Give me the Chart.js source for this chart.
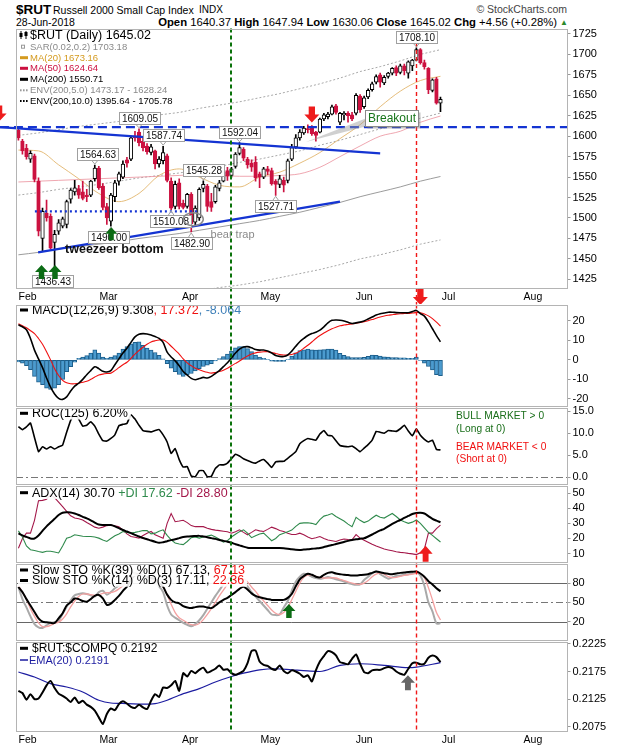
<!DOCTYPE html>
<html>
<head>
<meta charset="utf-8">
<title>$RUT Russell 2000 Small Cap Index</title>
<script src="https://cdn.jsdelivr.net/npm/chart.js@4.4.1/dist/chart.umd.min.js"></script>
<style>
  body { margin: 0; background: #fff; }
  #wrap { position: relative; width: 620px; height: 750px; overflow: hidden; background: #fff;
          font-family: "Liberation Sans", Arial, sans-serif; color: #000; }
  #wrap canvas { position: absolute; left: 0; }
  .txt { position: absolute; white-space: nowrap; line-height: 1; }
</style>
</head>
<body>
<div id="wrap">
  <div class="txt" style="left:16px;top:3px;font-size:13.5px;font-weight:bold">$RUT</div>
  <div class="txt" style="left:53px;top:4.5px;font-size:10.5px">Russell 2000 Small Cap Index</div>
  <div class="txt" style="left:199px;top:5px;font-size:10px">INDX</div>
  <div class="txt" style="right:53px;top:4px;font-size:10.5px;color:#444">&copy; StockCharts.com</div>
  <div class="txt" style="left:16px;top:17px;font-size:10.5px">28-Jun-2018</div>
  <div class="txt" style="right:63px;top:17px;font-size:11.3px"><b>Open</b> 1640.37 <b>High</b> 1647.94 <b>Low</b> 1630.06 <b>Close</b> 1645.02 <b>Chg</b> +4.56 (+0.28%)</div>
  <div class="txt" style="left:560px;top:19px;font-size:8px;color:#2a8a2a">&#9650;</div>
</div>
<script>
const FONT = '"Liberation Sans", Arial, sans-serif';
Chart.defaults.font.family = FONT;

// x = trading day index: 0 = 29-Jan-2018 ... 105 = 28-Jun-2018
const X_MIN = -0.6, X_MAX = 136.6;
const monthTicks = [2.3, 22.4, 42.7, 62.7, 86, 107, 128];
const monthNames = ['Feb', 'Mar', 'Apr', 'May', 'Jun', 'Jul', 'Aug'];
const GREEN_DAY = 53, RED_DAY = 99;

const opens = [1607,1594,1585,1572,1576,1545,1475,1506,1502,1470,
  1484,1490,1492,1523,1532,1536,1532,1528,1528,1548,
  1561,1539,1514,1496,1526,1545,1550,1571,1572,1600,
  1605,1594,1588,1580,1582,1566,1570,1576,1545,1514,
  1543,1518,1514,1529,1495,1500,1536,1539,1520,1520,
  1536,1545,1558,1552,1563,1579,1584,1572,1567,1568,
  1554,1550,1560,1558,1545,1541,1546,1546,1572,1587,
  1598,1604,1609,1611,1605,1605,1621,1624,1627,1637,
  1617,1626,1628,1626,1628,1649,1636,1648,1657,1666,
  1675,1665,1673,1677,1684,1678,1686,1677,1686,1693,
  1706,1690,1683,1656,1670,1640.37];
const highs = [1610,1596,1590,1582,1578,1549,1512,1522,1505,1485,
  1498,1501,1522,1536,1546,1540,1545,1535,1546,1564.63,
  1563,1542,1518,1530,1546,1556,1570,1574,1600,1606,
  1609.05,1598,1591,1590,1583,1575,1587.74,1578,1549,1545,
  1548,1522,1530,1531,1515,1537,1545.28,1541,1530,1540,
  1546,1558,1562,1562,1580,1592.04,1586,1574,1571,1575,
  1556,1562,1563,1561,1547,1552,1550,1572,1590,1602,
  1608,1612,1614,1613,1606,1622,1628,1629,1638,1639,
  1629,1630,1630,1629,1652,1651,1649,1658,1666,1675,
  1677,1674,1678,1684,1686,1688,1688,1692,1694,1708.10,
  1707,1693,1684,1670,1672,1647.94];
const lows = [1595,1578,1572,1568,1544,1478,1460,1496,1462,1436.43,
  1480,1488,1488,1518,1528,1524,1522,1520,1526,1545,
  1535,1510,1492,1490,1520,1540,1548,1562,1570,1594,
  1588,1582,1578,1577,1560,1562,1566,1544,1510.08,1511,
  1511,1511,1512,1482.90,1490,1497,1532,1508,1508,1518,
  1533,1544,1546,1550,1561,1577,1570,1561,1557,1545,
  1537,1548,1553,1540,1527.71,1537,1532,1543,1570,1585,
  1595,1602,1604,1601,1594,1604,1619,1621,1626,1627,
  1614,1620,1617,1619,1626,1629,1634,1646,1655,1664,
  1660,1663,1671,1675,1674,1676,1675,1671,1680,1692,
  1688,1682,1652,1654,1639,1630.06];
const closes = [1598,1582,1575,1579,1547,1484,1508,1500,1463,1480,
  1494,1499,1520,1534,1537,1528,1524,1526,1545,1561,
  1537,1513,1500,1528,1543,1554,1566,1567,1598,1598,
  1592,1586,1581,1587,1566,1572,1580,1546,1512,1541,
  1514,1513,1529,1493,1512,1535,1541,1514,1513,1538,
  1543,1556,1551,1560,1578,1586,1573,1565,1562,1549,
  1550,1560,1557,1542,1541,1548,1540,1570,1586,1598,
  1605,1610,1608,1603,1601,1621,1626,1627,1636,1629,
  1628,1628,1625,1621,1650,1632,1647,1656,1664,1673,
  1666,1672,1677,1683,1677,1686,1680,1691,1693,1706,
  1690,1685,1657,1669,1640.46,1645.02];

// overlays read at every 5th day
const maDays = [0,5,10,15,20,25,30,35,40,45,50,55,60,65,70,75,80,85,90,95,100,105];
const ma20 = [1583,1582,1565,1548,1530,1520,1530,1552,1560,1550,1540,1538,1550,1556,1567,1580,1597,1614,1636,1655,1668,1673.16];
const ma50 = [1544,1545,1546,1547,1548,1549,1550,1551,1552,1553,1552,1551,1551,1552,1554,1562,1575,1588,1600,1606,1617,1624.64];
const ma200 = [1455,1458,1462,1465,1468,1471,1475,1478,1481,1485,1489,1493,1497,1502,1507,1513,1519,1526,1532,1538,1545,1550.71];
const env5Up = [1528,1531,1535,1538,1541,1545,1549,1552,1555,1559,1563,1568,1572,1577,1582,1589,1595,1602,1609,1615,1622,1628.24];
const env5Lo = [1382,1385,1389,1392,1395,1397,1401,1404,1407,1411,1415,1418,1422,1427,1432,1437,1443,1450,1455,1461,1468,1473.17];
const env10Up = [1601,1604,1608,1612,1615,1618,1623,1626,1629,1634,1638,1642,1647,1652,1658,1664,1671,1679,1685,1692,1700,1705.78];

// hand-drawn trend lines [day, price]
const resistance = [[-4.6, 1611], [136.6, 1611]];
const trendDown = [[-4.6, 1611], [90, 1579]];
const trendUp = [[4.9, 1458], [80, 1520]];
const supportDots = [[4.1, 1508], [45.2, 1508]];

const tagDays = [30, 36, 19, 55, 46, 38, 43, 64, 9, 23, 99];
const tagVals = [1609.05, 1587.74, 1564.63, 1592.04, 1545.28, 1510.08, 1482.90, 1527.71, 1436.43, 1490.00, 1708.10];
const tagAbove = [1, 1, 1, 1, 1, 0, 0, 0, 0, 0, 1];
const tagShift = [0, 0, 3, 0, 0, -1, 0, 0, -2, -2, 0];

const macd = [18.0,17.0,15.5,11,5,0.5,-4,-9.3,-14,-17.5,
  -19.8,-20.3,-19,-16,-13.5,-12,-10,-7.6,-5.5,-3.5,
  -4.5,-5.9,-6.2,-5.5,-2.5,0.5,3.5,6,9,11.8,
  13.2,13.5,13.3,12.8,12,11,9,4,1.5,-0.5,
  -3,-6,-7.8,-9.5,-10.2,-9.6,-9.0,-9.3,-8.5,-7,
  -5.5,-3.5,-1.5,1,3.5,5.5,6.6,6.8,6.2,5.3,
  5.0,5.1,4.5,3.5,2.3,1.8,1.7,2.5,4.5,7,
  9.3,11,12.5,13.5,14.2,15.3,17,19,20.3,20.5,
  20.4,20,19.3,18.7,19,19.4,20,21,22,23,
  23.7,24.1,24.5,24.5,24.3,24.2,24.2,24.2,24.8,25.4,
  23.8,22.5,19.5,16,12.5,9.308];
const signal = [18.5,17.5,16.5,15,13.5,11,8,4.2,0,-4.5,
  -8,-10.5,-11.8,-12.3,-12.3,-12,-11.5,-11,-10,-8.8,
  -7.8,-7.3,-7,-6.8,-5.5,-4,-2.5,-1.2,0.8,3,
  4.8,6.5,8,9.2,9.8,10.2,10.2,9,7,5,
  3,0.5,-1.5,-3,-4.3,-5.1,-5.8,-6.4,-6.8,-6.5,
  -6,-5.3,-4.3,-3,-1.8,-0.6,0.8,2,3,3.6,
  4,4.2,4.2,3.8,3.3,2.8,2.5,2.5,2.8,3.4,
  4.5,6,7.5,9.2,11,12.5,13.8,15,16,16.8,
  17.5,17.9,18.2,18.5,18.8,19.2,19.6,20.1,20.7,21.4,
  22,22.5,22.9,23.2,23.5,23.7,23.8,23.9,24.1,24.3,
  24.2,23.6,22.6,21.2,19.4,17.372];
const histo = [-1,-1.7,-3,-5,-8.5,-11.5,-12.7,-14.5,-15.2,-14.5,
  -12.7,-10,-6,-3.5,-1.2,0.8,1.5,2.2,3.5,5.1,
  3.5,1.5,0.8,1.5,2.2,3.5,5.5,6.8,8.3,9.0,
  9.3,7.5,6,5,3.8,2.3,0.5,-2,-4.2,-6,
  -7.5,-8.5,-7.6,-7,-5.7,-4.5,-3.4,-2.7,-2,-0.5,
  0.7,1.7,3,4.5,6.2,6.8,6.8,5.8,4.2,2.5,
  1.5,0.8,0.2,-0.6,-0.8,-0.8,-0.8,0.3,2,3.6,
  4.8,5.1,5.6,5.1,5,5.1,5.3,5.6,5.6,5.0,
  3.4,2.4,1.7,1.2,1.2,1.2,1.3,1.8,2.5,2.3,
  2,1.6,1.4,1.2,1.2,1.1,1.0,0.8,0.8,1.4,
  -0.3,-1.7,-3.4,-5.1,-7.6,-8.064];

const roc = [11.5,10.8,11.4,12.3,9,5.8,6.9,6.4,6.9,6.4,
  6.9,7.3,10.2,12.9,14.5,13.2,11.6,11.8,12.6,11.6,
  9.8,8.3,8.2,8.8,9.6,11.7,12,12.2,14.2,13.2,
  11.8,10.6,10.4,10.3,10.6,10.8,9.6,8,5.4,6.5,
  4,2.3,2.4,0.3,0.1,1.5,1.5,0.1,0.2,2.0,
  2.8,2.8,3.2,4.2,5.2,4.8,4.2,3.8,3.4,3.2,
  3.7,4.0,3.2,2.2,3.5,3.6,3.6,4.3,5.0,5.8,
  7.6,8.3,8.8,8.6,8.4,9.8,10.6,9.5,9.4,8.3,
  7.2,7.0,6.9,7.1,6.5,5.8,6.6,7.4,8.4,10.4,
  10.2,10.0,10.6,10.5,10.4,11.0,11.8,10.5,9.4,11.0,
  9.5,8.6,8.0,8.4,6.3,6.2];

const adx = [23.3,22,21,20,20,22,25,28,30.5,33,
  35.5,37,37.3,37.2,36.5,35.5,34.3,33.3,32,30.5,
  29.2,28.9,28.9,28.9,28,26.8,25.6,24.6,23.5,22.4,
  21.3,20.3,19.5,18.6,17.8,17.1,17.5,18.2,18.9,19.5,
  20.2,20.9,21.3,21.5,21.6,21.7,21.3,20.8,20.2,19.7,
  19,18.4,17.8,17.1,16.2,15.4,14.6,13.9,13.7,13.6,
  13.6,13.7,13.7,13.7,13.6,13.6,13.5,13.2,12.8,12.5,
  12.4,12.6,12.8,13.1,13.4,13.7,14.3,15,15.6,16.3,
  17,17.7,18.4,19,19.4,19.8,20.1,21.3,22.6,24,
  25.3,26.4,28,29.6,31,32.2,33.6,34.9,36.2,36.8,
  37,36.5,34.8,33,31.8,30.7];
const plusDI = [25,21,15,12.5,12,11.3,10.8,11.5,11.5,11,
  10.4,15,20.2,21,22.4,22,21.5,21.3,21.3,21,
  20.2,19,18,20,21.8,23,24.6,24,23.6,24,
  24.6,25.3,25.2,23,23.5,24.8,25.7,22,19,17,
  16.3,15.9,18,20.5,21,20.2,21,21.6,22.2,21,
  19.5,17.5,18.5,21,22.8,24.5,25.7,23.5,20.5,21.8,
  23,23.5,21,18.5,20,22.5,23.5,24.5,25.5,28,
  30,30.3,30.4,30,29.2,32.5,34.8,35.5,36.5,34.5,
  33,31.5,29.5,27.8,34,32,30.5,31.5,33.5,35.4,
  34,33.5,35,36.5,34.5,32.2,31,30,30.8,32.2,
  30,27,24,22,19.8,17.62];
const minusDI = [13.5,20,23.5,23.5,32,45,45.2,46,49,47,
  44,41,38,35,33.5,33,32.2,30.5,29,27.5,
  26.8,27.5,28.5,28.9,28.3,27.8,25.5,23,21.3,20.8,
  20.2,22,23.5,24.6,22.4,21.3,20.2,30,36.5,31.1,
  31.5,32,30.5,28.5,27.8,27.8,27.8,26.8,26,25.5,
  25.2,24.8,24.4,23.5,24.5,25.7,24,22.4,24,25.7,
  25,24.6,26,27.5,26.5,25.2,24.6,23.5,22.6,22.6,
  23.5,22.4,21,19.8,20.5,21.3,20,19,18.5,18,
  19,19.6,19.3,19.1,22.5,20.2,18.8,17.5,16.2,15,
  14,13,12.4,11.8,11.2,10.8,10.5,10.1,9.8,9.3,
  10.5,13,23.5,23.5,26.5,28.8];

const stoK39 = [74,66,55,45,35,25,20,18.7,18,17.7,
  25,33,45,50,56,55,52,51,55,60,
  61.5,56.3,46,48,53.8,60,68,74.4,85,92,
  94,92,90,88,86,80,74.4,62,53.8,50,
  48.5,44,42,41,42.5,43.3,43.3,42,41,45,
  50,54,57,61.5,66,71,74.4,70,64,60,
  58,56.3,55,53.8,53.5,53.8,53.8,57,63,75,
  86,91,94.5,93,90,89,93,96,97,95,
  94,93,92.5,92,92,92.5,93,94,96,98,
  97,95.5,94.5,94,95,96,96.5,97.5,97.8,98,
  95,90,83,78,72,67.13];
const stoK14 = [74,55,42,28,16,11,10,14,18,19,
  21,32,43,53,61,63,64,63,61,59,
  66,68,62,66,72,76,80,88,95,96,
  93,90,86,84,80,75,66,45,31,26,
  22,18,15,12.6,16,22,30,40,50,60,
  69,78,86,90,92,88,82,75,66,59,
  52,45,38,31,30,31,42,52,68,82,
  90,94.5,93,90,88,87,88,89.5,88,86,
  84.5,82.5,80,78.5,77.5,78,85,90,95,98,
  94,90,87,89,91,92,93,94,95.5,97.5,
  92,76,50,36,17,17.11];
const stoD3 = [76,66,55,40,28,18,12,12,14,17,
  19,24,32,43,52,59,63,63,62,61,
  62,64,65,65,67,71,76,81,88,93,
  95,93,90,87,83,80,74,62,47,34,
  26,22,18,15,14.5,17,23,31,40,50,
  60,69,78,85,89,90,87,82,74,67,
  59,52,45,38,33,31,34,42,54,67,
  80,89,92.5,92.5,90.5,88.5,88,88,88.5,88,
  86,84,82,80,78.5,78,80,84,90,94,
  95.5,94,90,88.5,89,90.5,92,93,94,95.5,
  95,88.5,73,54,34,22.36];

const ratio = [.2140,.2136,.2124,.2134,.2125,.2126,.2137,.2150,.2158,.2145,
  .2135,.2131,.2126,.2120,.2128,.2118,.2122,.2115,.2111,.2104,
  .2092,.2080,.2098,.2108,.2105,.2116,.2121,.2117,.2111,.2109,
  .2115,.2110,.2107,.2122,.2134,.2129,.2146,.2145,.2150,.2158,
  .2140,.2172,.2166,.2176,.2172,.2178,.2182,.2173,.2176,.2180,
  .2186,.2178,.2179,.2172,.2169,.2172,.2176,.2190,.2212,.2213,
  .2193,.2187,.2185,.2180,.2178,.2186,.2176,.2172,.2177,.2175,
  .2171,.2165,.2168,.2157,.2177,.2193,.2203,.2212,.2210,.2204,
  .2192,.2190,.2188,.2198,.2206,.2189,.2174,.2172,.2177,.2178,
  .2178,.2181,.2183,.2181,.2175,.2171,.2169,.2180,.2190,.2191,
  .2188,.2189,.2200,.2204,.2201,.2192];
const emaDays = [0,4,8,12,16,20,23,27,31,34,37,40,45,49,53,56,60,64,68,72,75,80,85,91,97,99,105];
const ema20 = [.2174,.2165,.2153,.2147,.2138,.2123,.2118,.2117,.2116,.2117,.2123,.2132,.2144,.2156,.2166,.2172,.2178,.2180,.2178,.2176,.2175,.2186,.2189,.2186,.2182,.2183,.2191];

const priceTicks = [1425,1450,1475,1500,1525,1550,1575,1600,1625,1650,1675,1700,1725];
const macdTicks = [-20,-10,0,10,20];
const rocTicks = [0,2.5,5,7.5,10,12.5,15];
const adxTicks = [10,20,30,40,50];
const stoTicks = [20,50,80];
const ratioTicks = [0.2075,0.2100,0.2125,0.2150,0.2175,0.2200,0.2225];

const DOWN = '#cc1240';
const BLUE = '#1434d2';

const wrap = document.getElementById('wrap');
function makeCanvas(top, h) {
  const c = document.createElement('canvas');
  c.width = 620; c.height = h;
  c.style.top = top + 'px';
  wrap.appendChild(c);
  return c;
}

const daily = arr => arr.map((v, i) => ({ x: i, y: v }));
const sampled = (days, vals) => days.map((d, i) => ({ x: d, y: vals[i] }));
const pairs = arr => arr.map(p => ({ x: p[0], y: p[1] }));

function lineSet(data, color, width, extra) {
  return Object.assign({ type: 'line', data, borderColor: color, borderWidth: width,
    pointRadius: 0, fill: false, tension: 0 }, extra || {});
}

function opts(yMin, yMax, yTicks, fmt, xLabels, xHeight) {
  return {
    responsive: false, animation: false, events: [],
    layout: { padding: { left: 16, right: 0, top: 8, bottom: xLabels ? 0 : 8 } },
    plugins: { legend: { display: false }, tooltip: { enabled: false } },
    scales: {
      x: {
        type: 'linear', min: X_MIN, max: X_MAX, offset: false, display: xLabels,
        grid: { display: false, drawTicks: false }, border: { display: false },
        afterBuildTicks: s => { s.ticks = monthTicks.map(v => ({ value: v })); },
        afterFit: s => { s.height = xHeight; },
        ticks: { autoSkip: false, maxRotation: 0, padding: 2, color: '#000',
                 font: { size: 10.5 }, callback: (v, i) => monthNames[i] }
      },
      y: {
        type: 'linear', position: 'right', min: yMin, max: yMax,
        afterBuildTicks: s => { s.ticks = yTicks.map(v => ({ value: v })); },
        afterFit: s => { s.width = 52.5; },
        grid: { drawOnChartArea: false, drawTicks: true, tickLength: 3, color: '#999' },
        border: { display: false },
        ticks: { padding: 2, color: '#000', font: { size: 11 }, callback: v => fmt(v) }
      }
    }
  };
}

// ---------- drawing helpers ----------
// rows: [x, y, segs, size, icon]; backgrounds first so close rows never cover each other
function legend(ctx, rows) {
  ctx.save();
  ctx.textBaseline = 'middle';
  for (const [x, y, segs, size] of rows) {
    ctx.font = size + 'px ' + FONT;
    let w = 0;
    for (const s of segs) w += ctx.measureText(s[0]).width;
    ctx.fillStyle = 'rgba(255,255,255,0.9)';
    ctx.fillRect(18, y - size * 0.5, x - 18 + w + 3, size);
  }
  for (const [x0, y, segs, size, icon] of rows) {
    let x = x0;
    ctx.font = size + 'px ' + FONT;
    if (icon) icon(ctx, y);
    for (const s of segs) {
      ctx.fillStyle = s[1];
      ctx.fillText(s[0], x, y + 0.5);
      x += ctx.measureText(s[0]).width;
    }
  }
  ctx.restore();
}
const barIcon = (col, h) => (ctx, y) => { ctx.fillStyle = col; ctx.fillRect(20, y - h / 2, 8, h); };
const dotIcon = col => (ctx, y) => { ctx.fillStyle = col; for (let i = 0; i < 3; i++) ctx.fillRect(20 + i * 3, y - 1, 1.6, 2); };

function vLines(chart, extBottom, redTop) {
  const { ctx, chartArea: a } = chart;
  const xs = chart.scales.x;
  ctx.save();
  ctx.lineWidth = 2;
  ctx.strokeStyle = '#0a720a';
  ctx.setLineDash([4, 3]);
  let x = Math.round(xs.getPixelForValue(GREEN_DAY));
  ctx.beginPath(); ctx.moveTo(x, a.top); ctx.lineTo(x, a.bottom + extBottom); ctx.stroke();
  ctx.lineWidth = 1.4;
  ctx.strokeStyle = '#f01818';
  ctx.setLineDash([4, 3]);
  x = Math.round(xs.getPixelForValue(RED_DAY)) + 0.5;
  ctx.beginPath(); ctx.moveTo(x, redTop === undefined ? a.top : redTop); ctx.lineTo(x, a.bottom + extBottom); ctx.stroke();
  ctx.restore();
}

function border(chart) {
  const { ctx, chartArea: a } = chart;
  ctx.save();
  ctx.strokeStyle = '#b4b4b4'; ctx.lineWidth = 1; ctx.setLineDash([]);
  ctx.strokeRect(Math.round(a.left) + 0.5, Math.round(a.top) + 0.5, Math.round(a.width) - 1, Math.round(a.height) - 1);
  ctx.restore();
}

function hLine(chart, v, color, dash) {
  const { ctx, chartArea: a } = chart;
  const y = Math.round(chart.scales.y.getPixelForValue(v)) + 0.5;
  ctx.save();
  ctx.strokeStyle = color; ctx.lineWidth = 1; ctx.setLineDash(dash);
  ctx.beginPath(); ctx.moveTo(a.left, y); ctx.lineTo(a.right, y); ctx.stroke();
  ctx.restore();
}

function blockArrow(ctx, cx, tipY, w, h, up, fill) {
  const head = h * 0.5, sh = w * 0.42, d = up ? 1 : -1;
  ctx.save();
  ctx.fillStyle = fill;
  ctx.beginPath();
  ctx.moveTo(cx, tipY);
  ctx.lineTo(cx + w / 2, tipY + d * head);
  ctx.lineTo(cx + sh / 2, tipY + d * head);
  ctx.lineTo(cx + sh / 2, tipY + d * h);
  ctx.lineTo(cx - sh / 2, tipY + d * h);
  ctx.lineTo(cx - sh / 2, tipY + d * head);
  ctx.lineTo(cx - w / 2, tipY + d * head);
  ctx.closePath();
  ctx.fill();
  ctx.restore();
}

function priceTag(ctx, x, y, text, above, shift) {
  ctx.save();
  ctx.font = '10px ' + FONT;
  const w = Math.round(ctx.measureText(text).width) + 5, h = 12;
  const bx = Math.round(x + shift - w / 2) + 0.5;
  const by = above ? Math.round(y - 5 - h) + 0.5 : Math.round(y + 5) + 0.5;
  ctx.strokeStyle = '#a0a0a0'; ctx.lineWidth = 1;
  ctx.beginPath();
  const edge = above ? by + h : by;
  ctx.moveTo(x - 3, edge); ctx.lineTo(x, above ? y - 1 : y + 1); ctx.lineTo(x + 3, edge);
  ctx.stroke();
  ctx.fillStyle = '#fff';
  ctx.fillRect(bx, by, w, h);
  ctx.strokeRect(bx, by, w, h);
  ctx.fillStyle = '#111'; ctx.textAlign = 'center'; ctx.textBaseline = 'middle';
  ctx.fillText(text, bx + w / 2, by + h / 2 + 0.5);
  ctx.restore();
}

// ---------- price panel ----------
const up = closes.map((c, i) => c >= opens[i]);
const PRICE_TOP = 20;

const pricePlugin = {
  id: 'priceDeco',
  afterDatasetsDraw(chart) {
    const ctx = chart.ctx;
    const X = v => chart.scales.x.getPixelForValue(v);
    const Y = v => chart.scales.y.getPixelForValue(v);
    const r = abs => abs - PRICE_TOP;

    legend(ctx, [
      [30, r(35), [['$RUT (Daily) 1645.02', '#000']], 12.5, (c, y) => {
        c.fillStyle = '#000';
        c.fillRect(20.5, y - 4, 1, 8); c.fillRect(19.5, y - 2, 3, 4);
        c.fillRect(25.5, y - 4, 1, 8); c.fillRect(24.5, y - 3, 3, 4);
      }],
      [30, r(46.7), [['SAR(0.02,0.2) 1703.18', '#8a8a8a']], 9.5, (c, y) => {
        c.strokeStyle = '#999'; c.lineWidth = 1; c.strokeRect(21.5, y - 1.5, 3, 3);
      }],
      [30, r(57.7), [['MA(20) 1673.16', '#d49a1e']], 9.5, barIcon('#d49a1e', 3)],
      [30, r(68.3), [['MA(50) 1624.64', '#cc1040']], 9.5, barIcon('#cc1040', 3)],
      [30, r(79.3), [['MA(200) 1550.71', '#000']], 9.5, barIcon('#000', 3)],
      [30, r(90.3), [['ENV(200,5.0) 1473.17 - 1628.24', '#8a8a8a']], 9.5, dotIcon('#999')],
      [30, r(101), [['ENV(200,10.0) 1395.64 - 1705.78', '#000']], 9.5, dotIcon('#000')]
    ]);

    vLines(chart, 15, Math.round(Y(1708.10)) - 5);

    tagDays.forEach((d, i) => {
      const y = Y(tagAbove[i] ? highs[d] : lows[d]);
      priceTag(ctx, X(d), y, tagVals[i].toFixed(2), tagAbove[i], tagShift[i]);
    });

    // bear trap circle and notes
    ctx.save();
    ctx.strokeStyle = '#8a8a8a'; ctx.lineWidth = 1.5;
    ctx.beginPath(); ctx.ellipse(X(43.5), Y(1498.5), 10, 6.5, 0, 0, Math.PI * 2); ctx.stroke();
    ctx.fillStyle = '#8a8a8a'; ctx.font = '11px ' + FONT; ctx.textBaseline = 'middle';
    ctx.fillText('bear trap', X(47.8), Y(1479));
    ctx.fillStyle = '#111'; ctx.font = 'bold 12.5px ' + FONT;
    ctx.fillText('tweezeer bottom', X(11.6), Y(1462));
    ctx.restore();

    // Breakout callout
    ctx.save();
    const bx = Math.round(X(86.3)) + 0.5, by = Math.round(Y(1631.5)) + 0.5, bw = 53, bh = 16;
    ctx.fillStyle = 'rgba(150,150,150,0.45)';
    ctx.beginPath(); ctx.moveTo(bx, by + 8); ctx.lineTo(X(71.5), Y(1593)); ctx.lineTo(bx, by + bh); ctx.closePath(); ctx.fill();
    ctx.fillStyle = 'rgba(120,120,120,0.45)';
    ctx.fillRect(bx + 2, by + 2, bw, bh);
    ctx.fillStyle = '#fff'; ctx.fillRect(bx, by, bw, bh);
    ctx.strokeStyle = '#8a8a8a'; ctx.lineWidth = 1; ctx.strokeRect(bx, by, bw, bh);
    ctx.fillStyle = '#17751a'; ctx.font = '12px ' + FONT; ctx.textAlign = 'center'; ctx.textBaseline = 'middle';
    ctx.fillText('Breakout', bx + bw / 2, by + bh / 2 + 0.5);
    ctx.restore();

    blockArrow(ctx, X(5.75), Y(1442.4), 13, 14, true, '#0b6b14');
    blockArrow(ctx, X(9.1), Y(1442.4), 13, 14, true, '#0b6b14');
    blockArrow(ctx, X(23.1), Y(1488.8), 12, 13, true, '#0b6b14');
    blockArrow(ctx, X(73), Y(1616.8), 15, 16, false, '#ee1c1c');
    blockArrow(ctx, X(-4.8), Y(1618), 15, 16, false, '#ee1c1c');
    blockArrow(ctx, X(100), Y(1393.7), 15, 16, false, '#ee1c1c');

    border(chart);
  }
};

new Chart(makeCanvas(PRICE_TOP, 284), {
  type: 'bar',
  data: {
    datasets: [
      lineSet(pairs(resistance), BLUE, 2.2, { borderDash: [9, 5], clip: false, order: 0 }),
      lineSet(pairs(trendDown), BLUE, 2.2, { clip: false, order: 0 }),
      lineSet(pairs(trendUp), BLUE, 2.2, { clip: false, order: 0 }),
      lineSet(pairs(supportDots), BLUE, 2.2, { borderDash: [2, 3], order: 0 }),
      { data: opens.map((o, i) => ({ x: i, y: [Math.min(o, closes[i]), Math.max(o, closes[i])] })),
        backgroundColor: up.map(u => u ? '#fff' : DOWN), borderColor: up.map(u => u ? '#000' : DOWN),
        borderWidth: 1, borderSkipped: false, barThickness: 3.6, grouped: false, minBarLength: 1, order: 1 },
      { data: highs.map((h, i) => ({ x: i, y: [lows[i], h] })),
        backgroundColor: up.map(u => u ? '#000' : DOWN), barThickness: 1, grouped: false, order: 2 },
      lineSet(sampled(maDays, ma20), 'rgba(226,182,110,0.9)', 1, { cubicInterpolationMode: 'monotone', order: 3 }),
      lineSet(sampled(maDays, ma50), 'rgba(236,150,162,0.85)', 1, { cubicInterpolationMode: 'monotone', order: 3 }),
      lineSet(sampled(maDays, ma200), 'rgba(150,150,150,0.95)', 1, { cubicInterpolationMode: 'monotone', order: 3 }),
      lineSet(sampled(maDays, env5Up), '#a8a8a8', 1, { borderDash: [2, 2], order: 3 }),
      lineSet(sampled(maDays, env5Lo), '#a8a8a8', 1, { borderDash: [2, 2], order: 3 }),
      lineSet(sampled(maDays, env10Up), '#a8a8a8', 1, { borderDash: [2, 2], order: 3 })
    ]
  },
  options: opts(1413.2, 1731.5, priceTicks, v => String(v), true, 15),
  plugins: [pricePlugin]
});

// ---------- indicator panels ----------
function deco(top, o) {
  return {
    id: 'deco',
    beforeDatasetsDraw(chart) { if (o.refs) o.refs(chart); },
    afterDatasetsDraw(chart) {
      const r = abs => abs - top;
      if (o.legend) legend(chart.ctx, o.legend(r));
      vLines(chart, 0);
      if (o.after) o.after(chart, r);
      border(chart);
    }
  };
}
const iconBar = barIcon('#000', 3);
const L = 12.5;

// MACD
const MACD_TOP = 296;
new Chart(makeCanvas(MACD_TOP, 119), {
  type: 'bar',
  data: {
    datasets: [
      lineSet(daily(macd), '#000', 1.6, { tension: 0.3, order: 1 }),
      lineSet(daily(signal), '#f01010', 1.1, { tension: 0.3, order: 2 }),
      { data: daily(histo), backgroundColor: '#4b9bcf', borderColor: '#1d5f8c', borderWidth: 1,
        borderSkipped: false, barThickness: 4, grouped: false, order: 3 }
    ]
  },
  options: opts(-23.9, 28.4, macdTicks, v => String(v), false, 0),
  plugins: [deco(MACD_TOP, {
    legend: r => [[32, r(310), [['MACD(12,26,9) 9.308', '#000'], [', 17.372', '#f01010'], [', -8.064', '#3d7fb8']], L, iconBar]]
  })]
});

// ROC
const ROC_TOP = 399;
new Chart(makeCanvas(ROC_TOP, 94), {
  type: 'line',
  data: { datasets: [lineSet(daily(roc), '#000', 1.6, { tension: 0.1 })] },
  options: opts(-1.63, 15.8, rocTicks, v => v.toFixed(1), false, 0),
  plugins: [deco(ROC_TOP, {
    refs: chart => hLine(chart, 0, '#777', [7, 3, 2, 3]),
    legend: r => [[32, r(413.3), [['ROC(125) 6.20%', '#000']], L, iconBar]],
    after: (chart, r) => {
      const ctx = chart.ctx;
      ctx.save();
      ctx.font = '10.2px ' + FONT; ctx.textBaseline = 'middle';
      ctx.fillStyle = '#1a6e1a';
      ctx.fillText('BULL MARKET > 0', 456, r(415.7));
      ctx.fillText('(Long at 0)', 456, r(429.3));
      ctx.fillStyle = '#f01010';
      ctx.fillText('BEAR MARKET < 0', 456, r(447));
      ctx.fillText('(Short at 0)', 456, r(459.3));
      ctx.restore();
    }
  })]
});

// ADX
const ADX_TOP = 477;
new Chart(makeCanvas(ADX_TOP, 94), {
  type: 'line',
  data: {
    datasets: [
      lineSet(daily(adx), '#000', 2, { tension: 0.3 }),
      lineSet(daily(plusDI), '#2f8a4c', 1.1),
      lineSet(daily(minusDI), '#a4184a', 1.1)
    ]
  },
  options: opts(4.13, 55, adxTicks, v => String(v), false, 0),
  plugins: [deco(ADX_TOP, {
    legend: r => [[32, r(492.7), [['ADX(14) 30.70 ', '#000'], ['+DI 17.62 ', '#2f8a4c'], ['-DI 28.80', '#a4184a']], L, iconBar]],
    after: chart => blockArrow(chart.ctx, chart.scales.x.getPixelForValue(101.3), chart.scales.y.getPixelForValue(15.2), 14, 16, true, '#ee1c1c')
  })]
});

// Slow stochastics
const STO_TOP = 555;
new Chart(makeCanvas(STO_TOP, 94), {
  type: 'line',
  data: {
    datasets: [
      lineSet(daily(stoK39), '#000', 2, { tension: 0.3, order: 1 }),
      lineSet(daily(stoD3), '#f4a0a0', 1.3, { tension: 0.3, order: 2 }),
      lineSet(daily(stoK14), '#a9a9a9', 2, { tension: 0.3, order: 3 })
    ]
  },
  options: opts(-9.5, 110.5, stoTicks, v => String(v), false, 0),
  plugins: [deco(STO_TOP, {
    refs: chart => {
      hLine(chart, 80, '#666', []);
      hLine(chart, 20, '#666', []);
      hLine(chart, 50, '#777', [7, 3, 2, 3]);
    },
    legend: r => [
      [32, r(570), [['Slow STO %K(39) %D(1) 67.13, ', '#000'], ['67.13', '#f01010']], L, iconBar],
      [32, r(580.5), [['Slow STO %K(14) %D(3) 17.11, ', '#000'], ['22.36', '#f01010']], L, iconBar]
    ],
    after: chart => blockArrow(chart.ctx, chart.scales.x.getPixelForValue(67.3), chart.scales.y.getPixelForValue(47.4), 13, 14, true, '#0b6b14')
  })]
});

// $RUT:$COMPQ ratio
const RATIO_TOP = 633;
new Chart(makeCanvas(RATIO_TOP, 117), {
  type: 'line',
  data: {
    datasets: [
      lineSet(daily(ratio), '#000', 2, { tension: 0.2, order: 1 }),
      lineSet(sampled(emaDays, ema20), '#1c1ca0', 1.2, { cubicInterpolationMode: 'monotone', order: 2 })
    ]
  },
  options: opts(0.20655, 0.22291, ratioTicks, v => v.toFixed(4), true, 18),
  plugins: [deco(RATIO_TOP, {
    legend: r => [
      [32, r(648.3), [['$RUT:$COMPQ 0.2192', '#000']], 12, iconBar],
      [29, r(660), [['EMA(20) 0.2191', '#1c1ca0']], 11, barIcon('#1c1ca0', 1.5)]
    ],
    after: chart => blockArrow(chart.ctx, chart.scales.x.getPixelForValue(96.9), chart.scales.y.getPixelForValue(0.2168), 14, 15, true, '#666')
  })]
});
</script>
</body>
</html>
